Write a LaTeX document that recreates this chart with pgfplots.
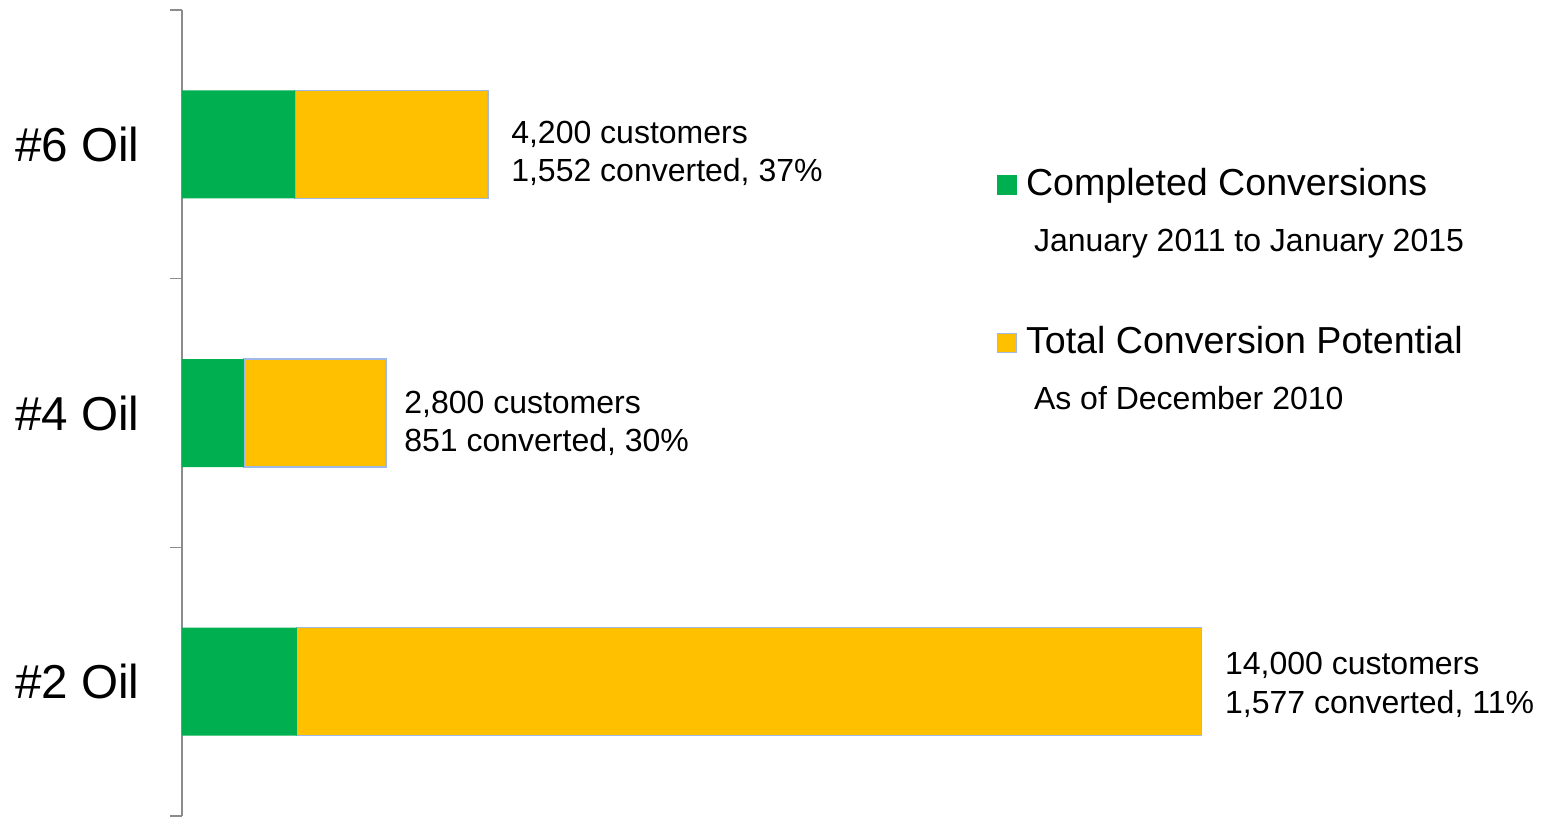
\documentclass[border=0pt]{standalone}
\usepackage{fontspec}
\setmainfont{Liberation Sans}
\usepackage{pgfplots}
\pgfplotsset{compat=1.18}
\definecolor{cgreen}{HTML}{00B050}
\definecolor{cyellow}{HTML}{FFC000}
\definecolor{cborder}{HTML}{A0B8E6}
\definecolor{caxis}{HTML}{8C8C8C}
\begin{document}
\begin{tikzpicture}
\begin{axis}[
 at={(0,0)}, anchor=south west,
 scale only axis, width=681pt, height=403pt,
 xbar stacked, bar width=54pt,
 xmin=0, xmax=18700, ymin=-0.5, ymax=2.5,
 axis x line=none, axis y line*=left,
 y axis line style={draw=caxis, line width=0.75pt, -},
 ytick={0,1,2}, yticklabels={\#2 Oil,\#4 Oil,\#6 Oil},
 major tick length=0pt,
 minor ytick={-0.5,0.5,1.5,2.5},
 minor tick length=6pt,
 tick align=outside,
 tick style={draw=caxis, line width=0.75pt},
 yticklabel style={font=\fontsize{23.8}{28}\selectfont, inner sep=0pt, xshift=-21pt},
 clip=false,
 legend style={draw=none, fill=none, inner sep=0pt, outer sep=0pt,
   at={(0.5984,0.8040)}, anchor=north west,
   cells={anchor=base west}, nodes={inner sep=0pt}, column sep=4.5pt,
   font=\fontsize{18.8}{23}\selectfont},
]
\addplot[fill=cgreen, draw=none,
  legend image code/.code={\fill[cgreen] (0pt,0.5pt) rectangle (10pt,10.5pt);}]
  coordinates {(1577,0) (851,1) (1552,2)};
\addlegendentry{\rule[-6pt]{0pt}{20pt}Completed Conversions}
\addlegendimage{empty legend}
\addlegendentry{\fontsize{16}{19}\selectfont\rule[-6pt]{0pt}{32.5pt}\hspace*{4pt}January 2011 to January 2015}
\addplot[fill=cyellow, draw=cborder, line width=0.6pt,
  legend image code/.code={\filldraw[fill=cyellow,draw=cborder,line width=0.6pt] (0.3pt,0.8pt) rectangle (9.7pt,10.2pt);}]
  coordinates {(12423,0) (1949,1) (2648,2)};
\addlegendentry{\rule[-6pt]{0pt}{55.5pt}Total Conversion Potential}
\addlegendimage{empty legend}
\addlegendentry{\fontsize{16}{19}\selectfont\rule[-6pt]{0pt}{32.5pt}\hspace*{4pt}As of December 2010}

\node[anchor=base west, inner sep=0pt, xshift=11.5pt, yshift=0.5pt, font=\fontsize{16}{19.25}\selectfont]
  at (axis cs:4200,2) {\begin{tabular}[t]{@{}l@{}}4,200 customers\\1,552 converted, 37\%\end{tabular}};
\node[anchor=base west, inner sep=0pt, xshift=9pt, yshift=0pt, font=\fontsize{16}{19.25}\selectfont]
  at (axis cs:2800,1) {\begin{tabular}[t]{@{}l@{}}2,800 customers\\851 converted, 30\%\end{tabular}};
\node[anchor=base west, inner sep=0pt, xshift=11.5pt, yshift=3.5pt, font=\fontsize{16}{19.25}\selectfont]
  at (axis cs:14000,0) {\begin{tabular}[t]{@{}l@{}}14,000 customers\\1,577 converted, 11\%\end{tabular}};
\end{axis}
\pgfresetboundingbox
\useasboundingbox (-91pt,0pt) rectangle (681pt,408pt);
\end{tikzpicture}
\end{document}
